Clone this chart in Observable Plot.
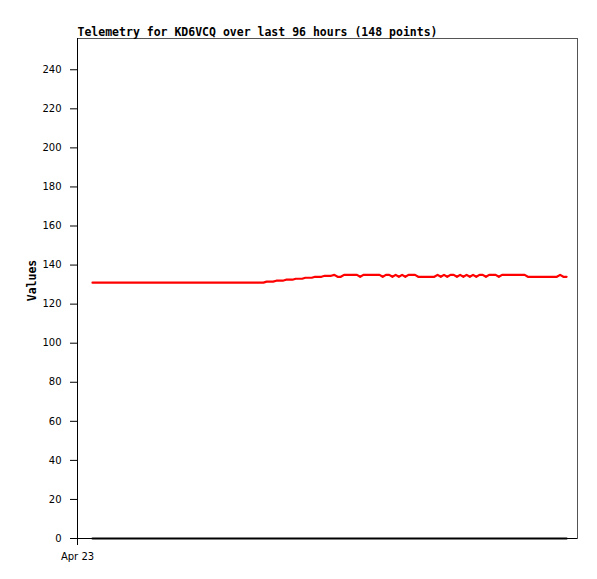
<!DOCTYPE html>
<html>
<head>
<meta charset="utf-8">
<script src="https://cdn.jsdelivr.net/npm/d3@7"></script>
<script src="https://cdn.jsdelivr.net/npm/@observablehq/plot@0.6"></script>
<style>
  html, body { margin: 0; padding: 0; background: #fff; }
  #chart svg { display: block; }
</style>
</head>
<body>
<div id="chart"></div>
<script>
// ---- data ----
const title = "Telemetry for KD6VCQ over last 96 hours (148 points)";
const yLabel = "Values";
const axisStart = new Date(Date.UTC(2023, 3, 23, 0, 0));   // "Apr 23"
const axisEnd = new Date(Date.UTC(2023, 3, 27, 4, 0));
const firstSample = new Date(Date.UTC(2023, 3, 23, 3, 0));
const sampleMinutes = 38.7; // spacing between telemetry samples
const yTicks = [0, 20, 40, 60, 80, 100, 120, 140, 160, 180, 200, 220, 240];

// red series (148 samples)
const redValues = [
  // 0..53 flat
  131,131,131,131,131,131,131,131,131,131,
  131,131,131,131,131,131,131,131,131,131,
  131,131,131,131,131,131,131,131,131,131,
  131,131,131,131,131,131,131,131,131,131,
  131,131,131,131,131,131,131,131,131,131,
  131,131,131,131,
  // 54..74 rise
  131.5,131.5,131.5,132,132,132,132.5,132.5,132.5,133,133,133,
  133.5,133.5,133.5,134,134,134,134.5,134.5,134.5,
  // 75..147
  135,134,134,135,135,135,135,135,134,135,
  135,135,135,135,135,134,135,135,134,135,
  134,135,134,135,135,135,134,134,134,134,
  134,134,135,134,135,134,135,135,134,135,
  134,135,134,135,134,135,135,134,135,135,
  135,134,135,135,135,135,135,135,135,135,
  134,134,134,134,134,134,134,134,134,134,
  135,134,134
];
// black series (148 samples)
const blackValues = redValues.map(() => 0);

const times = redValues.map((_, i) => new Date(+firstSample + i * sampleMinutes * 60000));
const red = redValues.map((v, i) => ({t: times[i], v}));
const black = blackValues.map((v, i) => ({t: times[i], v}));

const chart = Plot.plot({
  width: 597,
  height: 579,
  marginLeft: 77,
  marginRight: 20,
  marginTop: 38,
  marginBottom: 41,
  style: {fontFamily: "DejaVu Sans", fontSize: "10px", background: "#fff", color: "#000"},
  x: {type: "utc", domain: [axisStart, axisEnd]},
  y: {domain: [0, 256]},
  marks: [
    Plot.frame({stroke: "#555", strokeWidth: 1}),
    Plot.axisY({ticks: yTicks, tickSize: 7, tickPadding: 9, label: null, stroke: "#000"}),
    Plot.axisX({ticks: [axisStart], tickSize: 7, tickPadding: 7, tickFormat: d3.utcFormat("%b %d"), label: null, stroke: "#000"}),
    Plot.ruleY([0], {stroke: "#000", strokeWidth: 1}),
    Plot.ruleX([axisStart], {stroke: "#000", strokeWidth: 1}),
    Plot.line(black, {x: "t", y: "v", stroke: "#000", strokeWidth: 2.2}),
    Plot.line(red, {x: "t", y: "v", stroke: "#ff0000", strokeWidth: 2.2}),
    Plot.text([title], {frameAnchor: "top-left", dy: -3, lineAnchor: "bottom", textAnchor: "start",
      fontWeight: "bold", fontSize: 11.5, fontFamily: "DejaVu Sans Mono"}),
    Plot.text([yLabel], {frameAnchor: "left", dx: -45, dy: -8, rotate: -90, textAnchor: "middle",
      fontWeight: "bold", fontSize: 11.5, fontFamily: "DejaVu Sans Mono"})
  ]
});
document.getElementById("chart").appendChild(chart);
</script>
</body>
</html>
